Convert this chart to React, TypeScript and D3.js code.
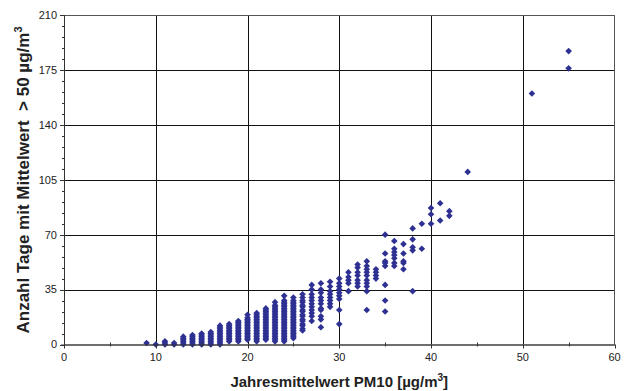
import React from "react";
import * as d3 from "d3";

// Annual mean PM10 (µg/m³) per station group and the number of days
// with a daily mean above 50 µg/m³ observed at that annual mean.
const pm10Levels: number[] = [
  9, 10, 11, 12, 13, 14, 15, 16, 17, 18, 19, 20, 21, 22, 23, 24, 25, 26, 27, 28,
  29, 30, 31, 32, 33, 34, 35, 36, 37, 38, 39, 40, 41, 42, 44, 51, 55,
];

const exceedanceDays: number[][] = [
  [1],
  [0],
  [0, 1, 2],
  [0, 1],
  [0, 1, 2, 3, 4, 5],
  [0, 1, 2, 3, 4, 5, 6],
  [0, 1, 2, 3, 4, 5, 6, 7],
  [0, 1, 2, 3, 4, 5, 6, 7, 8],
  [0, 1, 2, 3, 4, 5, 6, 7, 8, 9, 10, 11, 12],
  [2, 3, 4, 5, 6, 7, 8, 9, 10, 11, 12, 13],
  [2, 3, 4, 5, 6, 7, 8, 9, 10, 11, 12, 13, 14, 15],
  [3, 4, 5, 6, 7, 8, 9, 10, 11, 12, 13, 14, 15, 16, 17, 19],
  [2, 3, 4, 5, 6, 7, 8, 9, 10, 11, 12, 13, 14, 15, 16, 17, 18, 19, 20],
  [3, 4, 5, 6, 7, 8, 9, 10, 11, 12, 13, 14, 15, 16, 17, 18, 19, 20, 21, 22, 23],
  [2, 3, 4, 5, 6, 7, 8, 9, 10, 11, 12, 13, 14, 15, 16, 17, 18, 19, 20, 21, 22, 23, 24, 25, 27],
  [2, 3, 4, 5, 6, 7, 8, 9, 10, 11, 12, 13, 14, 15, 16, 17, 18, 19, 20, 21, 22, 23, 24, 25, 26, 27, 28, 31],
  [4, 5, 6, 7, 8, 9, 10, 11, 12, 13, 14, 15, 16, 17, 18, 19, 20, 21, 22, 23, 24, 25, 26, 27, 28, 30],
  [9, 10, 12, 13, 15, 16, 18, 19, 21, 22, 24, 25, 27, 28, 30, 32],
  [15, 18, 20, 22, 24, 26, 28, 30, 32, 35, 38],
  [11, 16, 18, 22, 23, 26, 28, 30, 33, 35, 39],
  [24, 26, 28, 30, 32, 34, 37, 40],
  [13, 22, 29, 31, 33, 35, 37, 39, 42],
  [34, 39, 41, 43, 46],
  [37, 39, 41, 44, 46, 49, 51],
  [22, 34, 37, 39, 41, 44, 46, 48, 50, 53],
  [42, 44, 46, 48],
  [21, 28, 38, 50, 52, 53, 58, 70],
  [50, 52, 55, 57, 59, 61, 66],
  [48, 52, 53, 58, 64],
  [34, 60, 62, 67, 74],
  [61, 77],
  [77, 83, 87],
  [79, 90],
  [82, 85],
  [110],
  [160],
  [176, 187],
];

const xTicks: number[] = [0, 10, 20, 30, 40, 50, 60];
const yTicks: number[] = [0, 35, 70, 105, 140, 175, 210];

const WIDTH = 624;
const HEIGHT = 391;
const LEFT = 64;
const RIGHT = 614.5;
const TOP = 15;
const BOTTOM = 344.5;

const FONT = "Arial, 'Liberation Sans', Helvetica, sans-serif";
const MARKER = "#2E3192";

export default function App() {
  const x = d3.scaleLinear().domain([0, 60]).range([LEFT, RIGHT]);
  const y = d3.scaleLinear().domain([0, 210]).range([BOTTOM, TOP]);

  const points = pm10Levels.flatMap((pm, i) =>
    exceedanceDays[i].map((d) => ({ pm, d }))
  );

  const minorX = d3.range(0, 61, 5).filter((v) => v % 10 !== 0);
  const minorY = d3.range(0, 211, 7).filter((v) => v % 35 !== 0);

  const r = 3.3;
  const diamond = `M0,${-r}L${r},0L0,${r}L${-r},0Z`;

  return (
    <svg
      width={WIDTH}
      height={HEIGHT}
      style={{ position: "absolute", left: 0, top: 0, background: "#fff" }}
      fontFamily={FONT}
    >
      <rect x={0} y={0} width={WIDTH} height={HEIGHT} fill="#fff" />

      {/* horizontal grid */}
      {yTicks
        .filter((t) => t > 0 && t < 210)
        .map((t) => (
          <line
            key={`gy${t}`}
            x1={LEFT}
            x2={RIGHT}
            y1={Math.round(y(t)) + 0.5}
            y2={Math.round(y(t)) + 0.5}
            stroke="#111"
            strokeWidth={1}
          />
        ))}
      {/* vertical grid */}
      {xTicks
        .filter((t) => t > 0 && t < 60)
        .map((t) => (
          <line
            key={`gx${t}`}
            x1={Math.round(x(t)) + 0.5}
            x2={Math.round(x(t)) + 0.5}
            y1={TOP}
            y2={BOTTOM}
            stroke="#111"
            strokeWidth={1}
          />
        ))}

      {/* plot frame */}
      <rect
        x={LEFT + 0.5}
        y={TOP + 0.5}
        width={RIGHT - LEFT - 0.5}
        height={BOTTOM - TOP}
        fill="none"
        stroke="#555"
        strokeWidth={1}
      />

      {/* data points */}
      <g fill={MARKER}>
        {points.map((p, i) => (
          <path
            key={i}
            d={diamond}
            transform={`translate(${x(p.pm)},${y(p.d)})`}
          />
        ))}
      </g>

      {/* axes */}
      <line x1={LEFT + 0.5} x2={LEFT + 0.5} y1={TOP} y2={BOTTOM + 3} stroke="#333" />
      <line x1={LEFT - 3} x2={RIGHT} y1={BOTTOM + 0.5} y2={BOTTOM + 0.5} stroke="#333" />

      {yTicks.map((t) => (
        <g key={`yt${t}`}>
          <line
            x1={LEFT - 4}
            x2={LEFT}
            y1={Math.round(y(t)) + 0.5}
            y2={Math.round(y(t)) + 0.5}
            stroke="#333"
          />
          <text
            x={LEFT - 7}
            y={y(t)}
            dy="0.35em"
            textAnchor="end"
            fontSize={11}
            fill="#222"
          >
            {t}
          </text>
        </g>
      ))}
      {minorY.map((t) => (
        <line
          key={`my${t}`}
          x1={LEFT - 2}
          x2={LEFT}
          y1={Math.round(y(t)) + 0.5}
          y2={Math.round(y(t)) + 0.5}
          stroke="#333"
        />
      ))}

      {xTicks.map((t) => (
        <g key={`xt${t}`}>
          <line
            x1={Math.round(x(t)) + 0.5}
            x2={Math.round(x(t)) + 0.5}
            y1={BOTTOM}
            y2={BOTTOM + 4}
            stroke="#333"
          />
          <text
            x={x(t)}
            y={BOTTOM + 16}
            textAnchor="middle"
            fontSize={11}
            fill="#222"
          >
            {t}
          </text>
        </g>
      ))}
      {minorX.map((t) => (
        <line
          key={`mx${t}`}
          x1={Math.round(x(t)) + 0.5}
          x2={Math.round(x(t)) + 0.5}
          y1={BOTTOM - 2}
          y2={BOTTOM + 2}
          stroke="#333"
        />
      ))}

      {/* axis titles */}
      <text
        x={(LEFT + RIGHT) / 2}
        y={387}
        textAnchor="middle"
        fontSize={15}
        fontWeight="bold"
        fill="#222"
      >
        Jahresmittelwert PM10 [µg/m
        <tspan fontSize={10} dy={-6}>
          3
        </tspan>
        <tspan dy={6}>]</tspan>
      </text>
      <text
        transform={`translate(29,180) rotate(-90)`}
        textAnchor="middle"
        fontSize={17}
        fontWeight="bold"
        fill="#222"
        style={{ whiteSpace: "pre" }}
      >
        {"Anzahl Tage mit Mittelwert  > 50 µg/m"}
        <tspan fontSize={11} dy={-7}>
          3
        </tspan>
      </text>
    </svg>
  );
}
